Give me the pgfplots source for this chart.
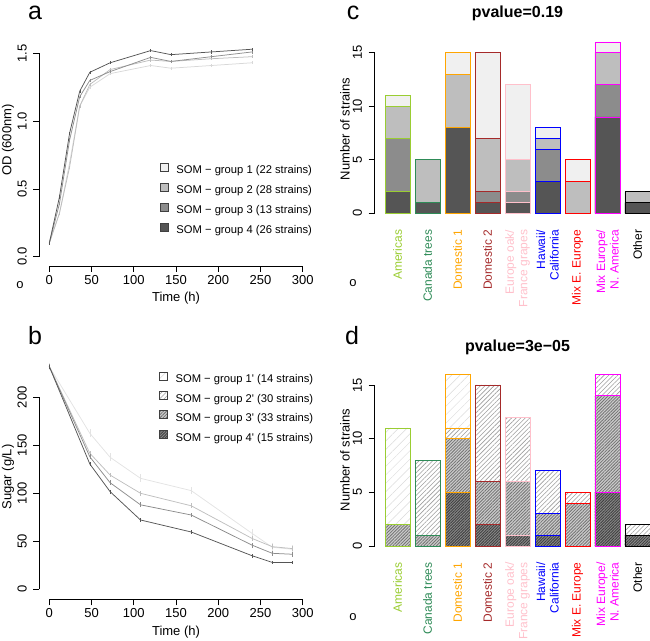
\documentclass[border=0pt]{standalone}
\usepackage{pgfplots}
\pgfplotsset{compat=1.18}
\usetikzlibrary{patterns.meta}
\usepackage{fontspec}
\setmainfont{Liberation Sans}[Ligatures=TeXOff]
% line colours
\definecolor{la1}{HTML}{D8D8D8}\definecolor{la2}{HTML}{BDBDBD}
\definecolor{la3}{HTML}{8E8E8E}\definecolor{la4}{HTML}{555555}
\definecolor{lb1}{HTML}{E3E3E3}\definecolor{lb2}{HTML}{BFBFBF}
\definecolor{lb3}{HTML}{8C8C8C}\definecolor{lb4}{HTML}{555555}
% fills
\definecolor{fc1}{HTML}{F0F0F0}\definecolor{fc2}{HTML}{BEBEBE}
\definecolor{fc3}{HTML}{8C8C8C}\definecolor{fc4}{HTML}{555555}
% categories
\definecolor{cAm}{HTML}{9ACD32}\definecolor{cCa}{HTML}{2E8B57}
\definecolor{cD1}{HTML}{FFA500}\definecolor{cD2}{HTML}{A52A2A}
\definecolor{cEu}{HTML}{FFC0CB}\definecolor{cHa}{HTML}{0000FF}
\definecolor{cME}{HTML}{FF0000}\definecolor{cMU}{HTML}{FF00FF}
\definecolor{cOt}{HTML}{000000}
\newcommand{\fs}{\fontsize{13}{15}\selectfont}
\newcommand{\fl}{\fontsize{11.2}{13}\selectfont}
\tikzset{
 P1/.style={fill=white, postaction={pattern={Lines[angle=45,distance=6pt,line width=0.5pt]}, pattern color=black!14}},
 P2/.style={fill=white, postaction={pattern={Lines[angle=45,distance=3.2pt,line width=0.6pt]}, pattern color=black!38}},
 P3/.style={fill=black!20, postaction={pattern={Lines[angle=45,distance=2.2pt,line width=0.8pt]}, pattern color=black!55}},
 P4/.style={fill=black!45, postaction={pattern={Lines[angle=45,distance=2pt,line width=0.9pt]}, pattern color=black!75}},
 Let/.style={font=\fontsize{25}{27}\selectfont, anchor=base, inner sep=0pt, text depth=0pt},
}
\pgfplotsset{
 Rstyle/.style={scale only axis, clip=false, axis x line*=bottom, axis y line*=left,
  separate axis lines, tick align=outside, major tick length=6pt,
  axis line style={black, line width=0.7pt}, tick style={black, line width=0.7pt},
  tick label style={font=\fs}, yticklabel style={rotate=90, anchor=south, yshift=3pt}},
 Lg/.style={legend style={draw=none, fill=none, inner sep=0pt, row sep=5.3pt,
  font=\fl, legend cell align=left, anchor=north west,
  /tikz/every odd column/.append style={column sep=6pt}}},
 Bar/.style={ybar, bar width=0.8333, bar shift=0},
 Out/.style={ybar, bar width=0.8333, bar shift=0, fill=none, line width=0.8pt},
 Bax/.style={Rstyle, xmin=-0.767, xmax=8.417, ymin=0, ymax=15, width=275.5pt, height=160.6pt,
  x axis line style={draw=none}, xtick style={draw=none},
  ytick={0,5,10,15}, yticklabels={0,5,10,15},
  xtick={0,...,8},
  xticklabel style={rotate=90, anchor=east, align=right, xshift=-7pt, font=\fontsize{12}{13.5}\selectfont},
  xticklabels={\textcolor{cAm}{Americas},\textcolor{cCa}{Canada trees},\textcolor{cD1}{Domestic 1},
   \textcolor{cD2}{Domestic 2},{\textcolor{cEu}{Europe oak/}\\\textcolor{cEu}{France grapes}},
   {\textcolor{cHa}{Hawaii/}\\\textcolor{cHa}{California}},\textcolor{cME}{Mix E. Europe},
   {\textcolor{cMU}{Mix Europe/}\\\textcolor{cMU}{N. America}},\textcolor{cOt}{Other}}},
}
\begin{document}
\begin{tikzpicture}
\useasboundingbox (0,0) rectangle (650pt,640pt);
% ---------------- panel a
\begin{axis}[Rstyle, Lg, at={(49.3pt,383.3pt)}, anchor=south west, width=253.4pt, height=203.4pt,
 xmin=0, xmax=300, ymin=0, ymax=1.5, axis x line shift=9.3pt, axis y line shift=10pt,
 xtick={0,50,100,150,200,250,300}, xticklabels={0,50,100,150,200,250,300},
 ytick={0,0.5,1,1.5}, yticklabels={0.0,0.5,1.0,1.5},
 legend style={at={(axis cs:130.5,0.695)}}]
\addplot[la1, line width=0.75pt, legend image code/.code={\draw[draw=black!75,fill=fc1] (0pt,-0.5pt) rectangle (8pt,7.5pt);},
 error bars/.cd, y dir=both, y fixed=0.012, error mark=none] coordinates {
 (0,0.10)(12,0.32)(24,0.69)(36,1.11)(48,1.25)(72,1.35)(120,1.41)(144,1.39)(192,1.41)(240,1.43)};
\addlegendentry{SOM − group 1 (22 strains)}
\addplot[la2, line width=0.75pt, legend image code/.code={\draw[draw=black!75,fill=fc2] (0pt,-0.5pt) rectangle (8pt,7.5pt);},
 error bars/.cd, y dir=both, y fixed=0.012, error mark=none] coordinates {
 (0,0.10)(12,0.32)(24,0.66)(36,1.11)(48,1.27)(72,1.38)(120,1.45)(144,1.44)(192,1.46)(240,1.475)};
\addlegendentry{SOM − group 2 (28 strains)}
\addplot[la3, line width=0.75pt, legend image code/.code={\draw[draw=black!75,fill=fc3] (0pt,-0.5pt) rectangle (8pt,7.5pt);},
 error bars/.cd, y dir=both, y fixed=0.012, error mark=none] coordinates {
 (0,0.10)(12,0.39)(24,0.86)(36,1.18)(48,1.30)(72,1.365)(120,1.47)(144,1.44)(192,1.475)(240,1.51)};
\addlegendentry{SOM − group 3 (13 strains)}
\addplot[la4, line width=0.75pt, legend image code/.code={\draw[draw=black!75,fill=fc4] (0pt,-0.5pt) rectangle (8pt,7.5pt);},
 error bars/.cd, y dir=both, y fixed=0.012, error mark=none] coordinates {
 (0,0.10)(12,0.44)(24,0.91)(36,1.22)(48,1.36)(72,1.43)(120,1.52)(144,1.49)(192,1.51)(240,1.53)};
\addlegendentry{SOM − group 4 (26 strains)}
\end{axis}
% ---------------- panel b
\begin{axis}[Rstyle, Lg, at={(49.3pt,50.7pt)}, anchor=south west, width=253.4pt, height=192pt,
 xmin=0, xmax=300, ymin=0, ymax=200, axis x line shift=10pt, axis y line shift=10pt,
 xtick={0,50,100,150,200,250,300}, xticklabels={0,50,100,150,200,250,300},
 ytick={0,50,100,150,200}, yticklabels={0,50,100,150,200},
 legend style={at={(axis cs:129.3,226.9)}, row sep=4.7pt}]
\addplot[lb1, line width=0.75pt, legend image code/.code={\draw[draw=black!75,P1] (0pt,-0.5pt) rectangle (8pt,7.5pt);},
 error bars/.cd, y dir=both, y fixed=4, error mark=none] coordinates {
 (0,232)(48,162.5)(72,137.5)(108,115.6)(168,102.8)(240,58.3)(264,43.8)(288,41.7)};
\addlegendentry{SOM − group 1' (14 strains)}
\addplot[lb2, line width=0.75pt, legend image code/.code={\draw[draw=black!75,P2] (0pt,-0.5pt) rectangle (8pt,7.5pt);},
 error bars/.cd, y dir=both, y fixed=2.5, error mark=none] coordinates {
 (0,232)(48,141.7)(72,119)(108,100)(168,87)(240,53)(264,44.4)(288,42.4)};
\addlegendentry{SOM − group 2' (30 strains)}
\addplot[lb3, line width=0.75pt, legend image code/.code={\draw[draw=black!75,P3] (0pt,-0.5pt) rectangle (8pt,7.5pt);},
 error bars/.cd, y dir=both, y fixed=2.5, error mark=none] coordinates {
 (0,232)(48,138)(72,111)(108,88)(168,77.4)(240,46)(264,37.5)(288,36.5)};
\addlegendentry{SOM − group 3' (33 strains)}
\addplot[lb4, line width=0.75pt, legend image code/.code={\draw[draw=black!75,P4] (0pt,-0.5pt) rectangle (8pt,7.5pt);},
 error bars/.cd, y dir=both, y fixed=2, error mark=none] coordinates {
 (0,232)(48,130.5)(72,101.7)(108,72.2)(168,59.7)(240,35)(264,28)(288,28)};
\addlegendentry{SOM − group 4' (15 strains)}
\end{axis}
% ---------------- panel c
\begin{axis}[Bax, at={(374.5pt,426.7pt)}, anchor=south west]
\addplot[Bar, fill=fc1, draw=none] coordinates {(0,11)(1,5)(2,15)(3,15)(4,12)(5,8)(6,5)(7,16)(8,2)};
\addplot[Bar, fill=fc2, draw=none] coordinates {(0,10)(1,5)(2,13)(3,7)(4,5)(5,7)(6,3)(7,15)(8,2)};
\addplot[Bar, fill=fc3, draw=none] coordinates {(0,7)(1,1)(2,8)(3,2)(4,2)(5,6)(6,0)(7,12)(8,1)};
\addplot[Bar, fill=fc4, draw=none] coordinates {(0,2)(1,1)(2,8)(3,1)(4,1)(5,3)(6,0)(7,9)(8,1)};
\addplot[Out, draw=cAm] coordinates {(0,2)(0,7)(0,10)(0,11)};
\addplot[Out, draw=cCa] coordinates {(1,1)(1,5)};
\addplot[Out, draw=cD1] coordinates {(2,8)(2,13)(2,15)};
\addplot[Out, draw=cD2] coordinates {(3,1)(3,2)(3,7)(3,15)};
\addplot[Out, draw=cEu] coordinates {(4,1)(4,2)(4,5)(4,12)};
\addplot[Out, draw=cHa] coordinates {(5,3)(5,6)(5,7)(5,8)};
\addplot[Out, draw=cME] coordinates {(6,3)(6,5)};
\addplot[Out, draw=cMU] coordinates {(7,9)(7,12)(7,15)(7,16)};
\addplot[Out, draw=cOt] coordinates {(8,1)(8,2)};
\end{axis}
% ---------------- panel d
\begin{axis}[Bax, at={(374.5pt,94pt)}, anchor=south west, height=161pt]
\addplot[Bar, P1, draw=none] coordinates {(0,11)(1,8)(2,16)(3,15)(4,12)(5,7)(6,5)(7,16)(8,2)};
\addplot[Bar, P2, draw=none] coordinates {(0,2)(1,8)(2,11)(3,15)(4,12)(5,7)(6,5)(7,16)(8,2)};
\addplot[Bar, P3, draw=none] coordinates {(0,2)(1,1)(2,10)(3,6)(4,6)(5,3)(6,4)(7,14)(8,1)};
\addplot[Bar, P4, draw=none] coordinates {(0,0)(1,0)(2,5)(3,2)(4,1)(5,1)(6,0)(7,5)(8,1)};
\addplot[Out, draw=cAm] coordinates {(0,2)(0,11)};
\addplot[Out, draw=cCa] coordinates {(1,1)(1,8)};
\addplot[Out, draw=cD1] coordinates {(2,5)(2,10)(2,11)(2,16)};
\addplot[Out, draw=cD2] coordinates {(3,2)(3,6)(3,15)};
\addplot[Out, draw=cEu] coordinates {(4,1)(4,6)(4,12)};
\addplot[Out, draw=cHa] coordinates {(5,1)(5,3)(5,7)};
\addplot[Out, draw=cME] coordinates {(6,4)(6,5)};
\addplot[Out, draw=cMU] coordinates {(7,5)(7,14)(7,16)};
\addplot[Out, draw=cOt] coordinates {(8,1)(8,2)};
\end{axis}
% ---------------- labels
\node[font=\fs, rotate=90] at (8pt,500pt) {OD (600nm)};
\node[font=\fs] at (176pt,342pt) {Time (h)};
\node[font=\fs, rotate=90] at (8pt,163pt) {Sugar (g/L)};
\node[font=\fs] at (176pt,8pt) {Time (h)};
\node[font=\fs, rotate=90] at (345pt,511pt) {Number of strains};
\node[font=\fs, rotate=90] at (345pt,180pt) {Number of strains};
\node[font=\fontsize{16}{18}\selectfont\bfseries] at (517.5pt,627pt) {pvalue=0.19};
\node[font=\fontsize{16}{18}\selectfont\bfseries] at (517.5pt,293pt) {pvalue=3e−05};
\node[Let, text height=13.5pt] at (35pt,620pt) {a};
\node[Let, text height=18.5pt] at (35pt,295pt) {b};
\node[Let, text height=13.5pt] at (353pt,620pt) {c};
\node[Let, text height=18.5pt] at (352pt,295pt) {d};
\node[font=\fs] at (20pt,355pt) {o};
\node[font=\fs] at (353pt,357pt) {o};
\node[font=\fs] at (353pt,23pt) {o};
\end{tikzpicture}
\end{document}
